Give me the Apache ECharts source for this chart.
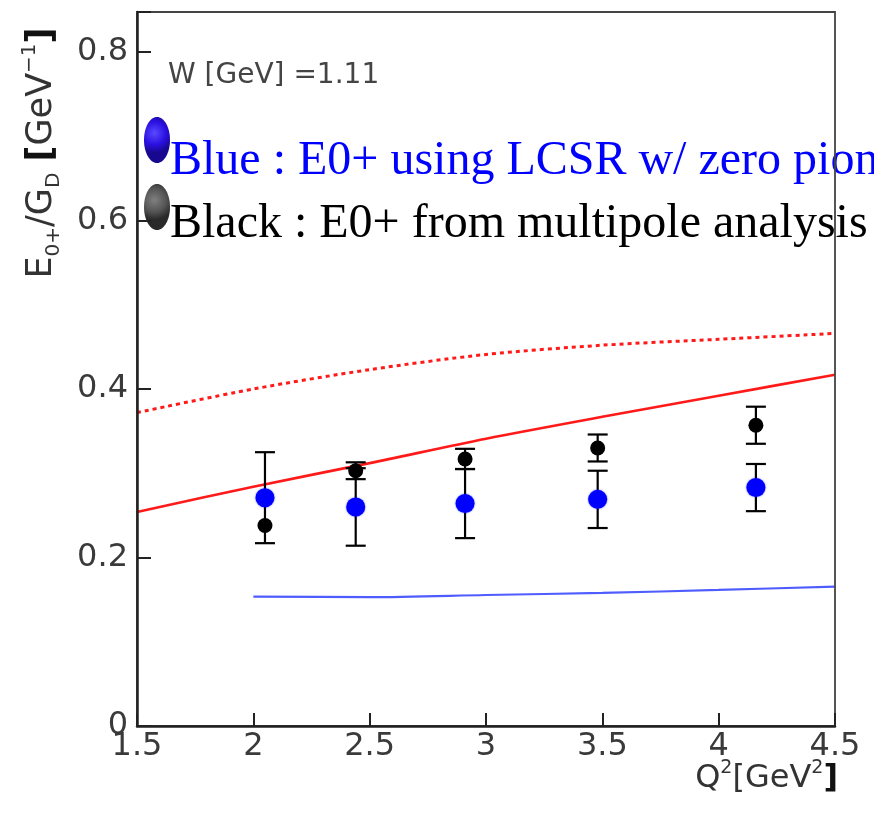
<!DOCTYPE html>
<html>
<head>
<meta charset="utf-8">
<script src="https://cdn.jsdelivr.net/npm/echarts@6/dist/echarts.min.js"></script>
<style>
  html, body { margin: 0; padding: 0; background: #ffffff; }
  #chart { width: 874px; height: 816px; }
</style>
</head>
<body>
<div id="chart"></div>
<script>
// Measured points (Q^2 in GeV^2)
const q2Points = [2.05, 2.44, 2.91, 3.48, 4.16];
// E0+/G_D from LCSR (blue) with symmetric errors
const lcsrValues = [0.271, 0.260, 0.264, 0.269, 0.283];
const lcsrErrors = [0.054, 0.046, 0.041, 0.034, 0.028];
// E0+/G_D from multipole analysis (black) with symmetric errors
const multipoleValues = [0.238, 0.303, 0.317, 0.330, 0.357];
const multipoleErrors = [0.000, 0.010, 0.012, 0.016, 0.022];

// Theory curves
const redCurveQ2 = [1.5, 2.0, 2.5, 3.0, 3.5, 4.0, 4.5];
const redSolid = [0.254, 0.284, 0.312, 0.341, 0.367, 0.392, 0.417];
const redDotted = [0.372, 0.400, 0.423, 0.441, 0.452, 0.459, 0.466];
const blueCurveQ2 = [2.0, 2.5, 3.0, 3.5, 4.0, 4.5];
const blueCurve = [0.1535, 0.153, 0.1555, 0.158, 0.1615, 0.1655];

// Axis ranges
const xRange = [1.5, 4.5];
const xStep = 0.5;
const yRange = [0, 0.8475];
const yStep = 0.2;

const SANS = 'DejaVu Sans';
const SERIF = 'Liberation Serif';
const labelGray = '#3a3a3a';

const pairs = (xs, ys) => xs.map((x, i) => [x, ys[i]]);
const errorData = (vals, errs) => q2Points.map((x, i) => [x, vals[i] - errs[i], vals[i] + errs[i]]);

function errorBars(color, capHalf) {
  return function (params, api) {
    const x = api.value(0);
    if (api.value(2) - api.value(1) <= 0) return null;   // no error bar for this point
    const lo = api.coord([x, api.value(1)]);
    const hi = api.coord([x, api.value(2)]);
    const style = { stroke: color, lineWidth: 2.2 };
    return {
      type: 'group',
      children: [
        { type: 'line', shape: { x1: hi[0], y1: hi[1], x2: lo[0], y2: lo[1] }, style },
        { type: 'line', shape: { x1: hi[0] - capHalf, y1: hi[1], x2: hi[0] + capHalf, y2: hi[1] }, style },
        { type: 'line', shape: { x1: lo[0] - capHalf, y1: lo[1], x2: lo[0] + capHalf, y2: lo[1] }, style }
      ]
    };
  };
}

const chart = echarts.init(document.getElementById('chart'), null, { renderer: 'canvas' });

chart.setOption({
  backgroundColor: '#ffffff',
  animation: false,
  grid: {
    left: 137, top: 12, right: 39, bottom: 90,
    show: true, borderColor: '#444444', borderWidth: 1.8, z: 20
  },
  xAxis: {
    type: 'value', min: xRange[0], max: xRange[1], interval: xStep,
    z: 20,
    axisLine: { show: true, onZero: false, lineStyle: { color: '#222', width: 2.5 } },
    axisTick: { show: true, inside: true, length: 13, lineStyle: { color: '#222', width: 2 } },
    splitLine: { show: false },
    axisLabel: {
      margin: 5, color: labelGray, fontFamily: SANS, fontSize: 32,
      showMinLabel: true, showMaxLabel: true
    }
  },
  yAxis: {
    type: 'value', min: yRange[0], max: yRange[1], interval: yStep,
    z: 20,
    axisLine: { show: true, onZero: false, lineStyle: { color: '#222', width: 2.5 } },
    axisTick: { show: true, inside: true, length: 14, lineStyle: { color: '#222', width: 2 } },
    splitLine: { show: false },
    axisLabel: {
      margin: 9, color: labelGray, fontFamily: SANS, fontSize: 32,
      formatter: function (v) {
        const k = Math.round(v / yStep);
        if (Math.abs(v - k * yStep) > 1e-6) return '';
        return k === 0 ? '0' : (k * yStep).toFixed(1);
      }
    }
  },
  series: [
    {
      type: 'line', data: pairs(redCurveQ2, redDotted), symbol: 'none', smooth: 0.3,
      lineStyle: { color: '#ff1a1a', width: 3, type: [4, 4] }, z: 3
    },
    {
      type: 'line', data: pairs(redCurveQ2, redSolid), symbol: 'none', smooth: 0.3,
      lineStyle: { color: '#ff1a1a', width: 2.6 }, z: 3
    },
    {
      type: 'line', data: pairs(blueCurveQ2, blueCurve), symbol: 'none', smooth: 0.3,
      lineStyle: { color: '#3040ff', width: 2.2, opacity: 0.85 }, z: 3
    },
    {
      type: 'custom', renderItem: errorBars('#000000', 10),
      data: errorData(lcsrValues, lcsrErrors), z: 4
    },
    {
      type: 'custom', renderItem: errorBars('#000000', 10),
      data: errorData(multipoleValues, multipoleErrors), z: 4
    },
    {
      type: 'scatter', data: pairs(q2Points, multipoleValues),
      symbol: 'circle', symbolSize: 15,
      itemStyle: { color: '#000000', opacity: 1 }, z: 5
    },
    {
      type: 'scatter', data: pairs(q2Points, lcsrValues),
      symbol: 'circle', symbolSize: 19,
      itemStyle: { color: '#0000ff', opacity: 1, shadowBlur: 2, shadowColor: 'rgba(0,0,255,0.6)' }, z: 6
    }
  ],
  graphic: [
    {
      type: 'text', x: 168, y: 76, z: 10,
      style: { text: 'W [GeV] =1.11', font: '28px "' + SANS + '"', fill: '#444444', verticalAlign: 'middle' }
    },
    {
      type: 'ellipse', z: 10,
      shape: { cx: 157, cy: 140, rx: 13, ry: 23 },
      style: {
        fill: new echarts.graphic.RadialGradient(0.4, 0.35, 0.75, [
          { offset: 0, color: '#5a48ff' },
          { offset: 0.6, color: '#2a10e0' },
          { offset: 1, color: '#180890' }
        ])
      }
    },
    {
      type: 'ellipse', z: 10,
      shape: { cx: 157, cy: 207, rx: 13, ry: 23 },
      style: {
        fill: new echarts.graphic.RadialGradient(0.4, 0.35, 0.75, [
          { offset: 0, color: '#808080' },
          { offset: 0.6, color: '#555555' },
          { offset: 1, color: '#2a2a2a' }
        ])
      }
    },
    {
      type: 'text', x: 170, y: 161, z: 10,
      style: { text: 'Blue : E0+ using LCSR w/ zero pion', font: '48px "' + SERIF + '"', fill: '#0000ff', verticalAlign: 'middle' }
    },
    {
      type: 'text', x: 170, y: 224, z: 10,
      style: { text: 'Black : E0+ from multipole analysis', font: '48px "' + SERIF + '"', fill: '#000000', verticalAlign: 'middle' }
    },
    {
      // vertical axis title
      type: 'text', x: 42, y: 153, rotation: Math.PI / 2, z: 10,
      style: {
        text: '{m|E}{sub|0+}{m|/G}{sub|D}{m| }{b|[}{m|GeV}{sup|−1}{b|]}',
        align: 'center', verticalAlign: 'middle',
        rich: {
          m: { fontFamily: SANS, fontSize: 35, fill: '#333333', lineHeight: 44, verticalAlign: 'middle' },
          b: { fontFamily: SANS, fontSize: 35, fontWeight: 'bold', fill: '#111111', lineHeight: 44, verticalAlign: 'middle' },
          sub: { fontFamily: SANS, fontSize: 20, fill: '#333333', lineHeight: 44, verticalAlign: 'bottom' },
          sup: { fontFamily: SANS, fontSize: 20, fill: '#333333', lineHeight: 44, verticalAlign: 'top' }
        }
      }
    },
    {
      // horizontal axis title
      type: 'text', x: 838, y: 779, z: 10,
      style: {
        text: '{m|Q}{sup|2}{m|[GeV}{sup|2}{b|]}',
        align: 'right', verticalAlign: 'middle',
        rich: {
          m: { fontFamily: SANS, fontSize: 32, fill: '#333333', lineHeight: 40, verticalAlign: 'middle' },
          b: { fontFamily: SANS, fontSize: 32, fontWeight: 'bold', fill: '#111111', lineHeight: 40, verticalAlign: 'middle' },
          sup: { fontFamily: SANS, fontSize: 19, fill: '#333333', lineHeight: 40, verticalAlign: 'top' }
        }
      }
    }
  ]
});
</script>
</body>
</html>
